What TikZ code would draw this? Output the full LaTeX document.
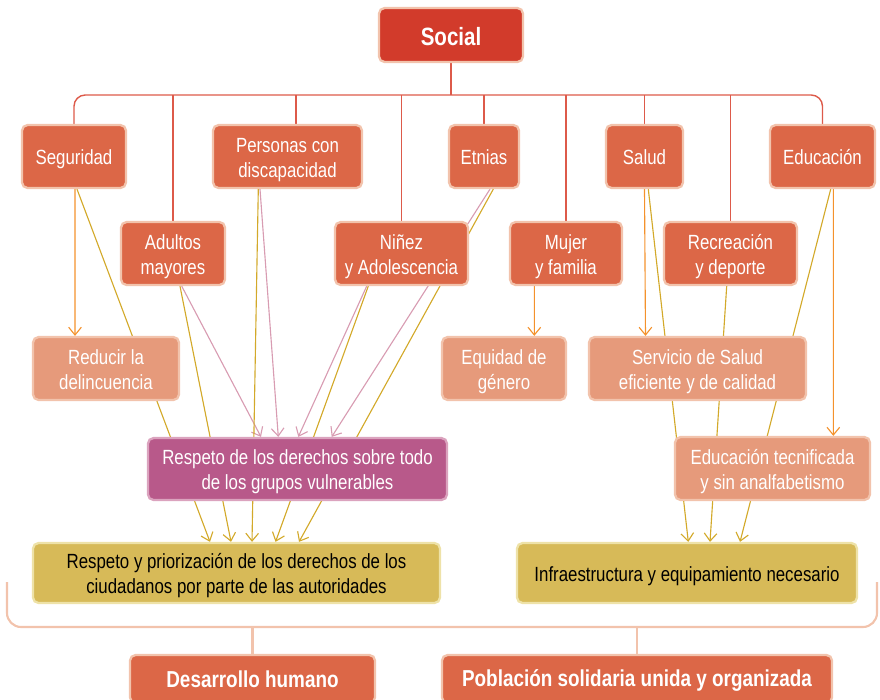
\documentclass[tikz,border=0pt]{standalone}
\usepackage{fontspec}
\setmainfont{Liberation Sans}[FakeStretch=0.82]
\usepackage{tikz}
\usetikzlibrary{arrows.meta,backgrounds}

\definecolor{socialred}{HTML}{D23B2B}
\definecolor{boxred}{HTML}{DC6747}
\definecolor{boxedge}{HTML}{F2C3AC}
\definecolor{lightbox}{HTML}{E69A7B}
\definecolor{vulbox}{HTML}{B8598A}
\definecolor{vuledge}{HTML}{DBA3BE}
\definecolor{resbox}{HTML}{D7BA58}
\definecolor{resedge}{HTML}{EEE2A8}
\definecolor{busred}{HTML}{DD5A4A}
\definecolor{arrorange}{HTML}{F4922C}
\definecolor{lineyel}{HTML}{D3A92A}
\definecolor{linepink}{HTML}{D89CB2}

\begin{document}
\begin{tikzpicture}[
  x=0.025cm, y=-0.025cm,
  font=\fontsize{14.6}{17.8}\selectfont,
  bx/.style={draw=boxedge, line width=1.6pt, rounded corners=4pt, fill=boxred,
             text=white, align=center, inner sep=1pt, minimum height=1.575cm,
             execute at begin node={\rule{0pt}{14.5pt}},
             execute at end node={\rule[-3.1pt]{0pt}{3.1pt}}},
  two/.style={execute at begin node={\rule{0pt}{32.7pt}}},
  hd/.style={bx, fill=socialred, font=\fontsize{17.8}{20}\selectfont\bfseries,
             execute at begin node={\rule{0pt}{17.5pt}}},
  sub/.style={bx, fill=lightbox},
  vul/.style={bx, fill=vulbox, draw=vuledge, minimum height=1.55cm},
  res/.style={bx, fill=resbox, draw=resedge, text=black, minimum height=1.5cm},
  goal/.style={bx, minimum height=1.2cm, font=\fontsize{16.4}{19}\selectfont\bfseries},
  bus/.style={draw=busred, line width=1pt},
  brk/.style={draw=boxedge, line width=1.5pt},
  a/.style={draw=arrorange, line width=0.8pt, -{Straight Barb[length=5.5pt,width=9pt]}},
  ya/.style={draw=lineyel, line width=0.8pt, -{Straight Barb[length=5.5pt,width=9pt]}},
  pa/.style={draw=linepink, line width=0.8pt, -{Straight Barb[length=5.5pt,width=9pt]}}
]
\useasboundingbox (0,0) rectangle (880,699);

% ================= head =================
\node[hd, minimum width=3.6cm, minimum height=1.35cm] (social) at (451,35) {Social};

% ================= row 1 =================
\node[bx, minimum width=2.6cm]        (segur)  at ( 74,156.5) {Seguridad};
\node[bx, two, minimum width=3.725cm] (perso)  at (287.5,156.5) {Personas con\\discapacidad};
\node[bx, minimum width=1.75cm]       (etnias) at (484,156.5) {Etnias};
\node[bx, minimum width=1.925cm]      (salud)  at (644.5,156.5) {Salud};
\node[bx, minimum width=2.625cm]      (educ)   at (822.5,156.5) {Educación};

% ================= row 2 =================
\node[bx, two, minimum width=2.6cm]   (adult) at (173,253.5) {Adultos\\mayores};
\node[bx, two, minimum width=3.325cm] (ninez) at (401.5,253.5) {Niñez\\y Adolescencia};
\node[bx, two, minimum width=2.8cm]   (mujer) at (566,253.5) {Mujer\\y familia};
\node[bx, two, minimum width=3.325cm] (recre) at (730.5,253.5) {Recreación\\y deporte};

% ================= row 3 =================
\node[sub, two, minimum width=3.65cm]  (reduc) at (106,368.5) {Reducir la\\delincuencia};
\node[sub, two, minimum width=3.1cm]   (equid) at (504,368.5) {Equidad de\\género};
\node[sub, two, minimum width=5.425cm] (servi) at (697.5,368.5) {Servicio de Salud\\eficiente y de calidad};

% ================= row 4 =================
\node[vul, two, minimum width=7.475cm] (resder) at (297.5,469)
  {Respeto de los derechos sobre todo\\de los grupos vulnerables};
\node[sub, two, minimum width=4.875cm, minimum height=1.575cm] (edtec) at (772.5,468.5)
  {Educación tecnificada\\y sin analfabetismo};

% ================= row 5 =================
\node[res, two, minimum width=10.175cm] (resprio) at (236.5,573)
  {Respeto y priorización de los derechos de los\\ciudadanos por parte de las autoridades};
\node[res, minimum width=8.5cm] (infra) at (687,573)
  {Infraestructura y equipamiento necesario};

% ================= goals =================
\node[goal, minimum width=6.125cm] (desarr) at (252.5,679) {Desarrollo humano};
\node[goal, minimum width=9.75cm]  (pobl)   at (637,679) {Población solidaria unida y organizada};

\begin{scope}[on background layer]
% tree from the head
\coordinate (busmid) at (451,95);
\draw[bus, rounded corners=8pt] (segur.north) |- (busmid) -| (educ.north);
\draw[bus] (social) -- (busmid);
\foreach \n in {adult,ninez,etnias,mujer,salud,recre}
  \draw[bus] (\n.north) -- (\n.north |- busmid);
\draw[bus] ([xshift=0.21cm]perso.north) -- ([xshift=0.21cm]perso.north |- busmid);

% direct results
\draw[a] ([xshift=0.025cm]segur.south) -- ([xshift=-0.775cm]reduc.north);
\draw[a] ([xshift=-0.79cm]mujer.south) -- ([xshift=0.7575cm]equid.north);
\draw[a] (salud.south) -- ([xshift=-1.3cm]servi.north);
\draw[a] ([xshift=0.27cm]educ.south) -- ([xshift=1.52cm]edtec.north);

% vulnerable groups
\draw[pa] ([xshift=0.2175cm]adult.south) -- ([xshift=-0.9125cm]resder.north);
\draw[pa] ([xshift=-0.6875cm]perso.south) -- ([xshift=-0.48cm]resder.north);
\draw[pa] ([xshift=-0.87cm]ninez.south)  -- ([xshift=0.02cm]resder.north);
\draw[pa] ([xshift=0.15cm]etnias.south)  -- ([xshift=0.855cm]resder.north);

% rights of the citizens
\draw[ya] ([xshift=0.075cm]segur.south)   -- ([xshift=-0.6625cm]resprio.north);
\draw[ya] ([xshift=0.175cm]adult.south)   -- ([xshift=-0.1375cm]resprio.north);
\draw[ya] ([xshift=-0.73cm]perso.south)   -- ([xshift=0.3875cm]resprio.north);
\draw[ya] ([xshift=-0.83cm]ninez.south)   -- ([xshift=0.975cm]resprio.north);
\draw[ya] ([xshift=0.2325cm]etnias.south) -- ([xshift=1.5625cm]resprio.north);

% infrastructure
\draw[ya] ([xshift=0.095cm]salud.south) -- ([xshift=0.0325cm]infra.north);
\draw[ya] ([xshift=-0.095cm]recre.south) -- ([xshift=0.575cm]infra.north);
\draw[ya] ([xshift=0.205cm]educ.south) -- ([xshift=1.325cm]infra.north);

% bracket to the goals
\coordinate (brkL) at (7,582);
\coordinate (brkB) at (440,627);
\coordinate (brkR) at (877,582);
\draw[brk, rounded corners=10pt] (brkL) |- (brkB) -| (brkR);
\draw[brk] (desarr.north) -- (desarr.north |- brkB);
\draw[brk] (pobl.north) -- (pobl.north |- brkB);
\end{scope}
\end{tikzpicture}
\end{document}
